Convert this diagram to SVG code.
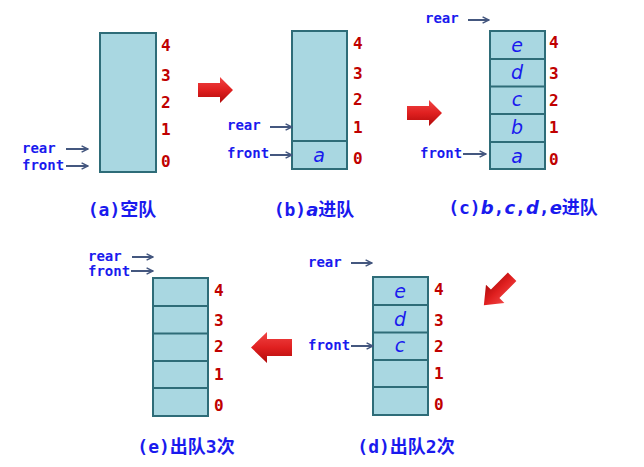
<svg xmlns="http://www.w3.org/2000/svg" width="644" height="467" viewBox="0 0 644 467">
<defs>
<linearGradient id="rg" x1="0" y1="0" x2="0" y2="1">
<stop offset="0" stop-color="#f04545"/>
<stop offset="0.5" stop-color="#e02020"/>
<stop offset="1" stop-color="#b00a0a"/>
</linearGradient>
<marker id="ah" viewBox="0 0 10 10" refX="9" refY="5" markerWidth="8" markerHeight="8" markerUnits="userSpaceOnUse" orient="auto">
<path d="M1,1 L9,5 L1,9" fill="none" stroke="#44577f" stroke-width="1.8"/>
</marker>
</defs>
<style>
.box{fill:#a9d7e1;stroke:#2e6c78;stroke-width:2}
.div{stroke:#2e6c78;stroke-width:2}
.idx{font-family:"DejaVu Sans Mono",monospace;font-weight:bold;font-size:16px;fill:#c00000}
.lbl{font-family:"DejaVu Sans Mono",monospace;font-weight:bold;font-size:14px;fill:#1a1aee}
.cell{font-family:"DejaVu Sans",sans-serif;font-style:italic;font-size:19px;fill:#1a1aee;text-anchor:middle}
.cap{font-family:"DejaVu Sans Mono","Noto Sans CJK SC",monospace;font-weight:bold;font-size:18px;fill:#1a1aee;text-anchor:middle}
.it{font-family:"DejaVu Sans",sans-serif;font-style:italic}
.ptr{stroke:#44577f;stroke-width:2;fill:none;marker-end:url(#ah)}
.big{fill:url(#rg)}
</style>

<g id="nodeA">
<rect class="box" x="100" y="33" width="56" height="139"/>
<text class="idx" x="161" y="51">4</text>
<text class="idx" x="161" y="81">3</text>
<text class="idx" x="161" y="108">2</text>
<text class="idx" x="161" y="135">1</text>
<text class="idx" x="161" y="167">0</text>
<text class="lbl" x="22" y="153">rear</text>
<text class="lbl" x="22" y="170">front</text>
<text class="cap" x="122" y="216">(a)空队</text>
</g>

<g id="nodeB">
<rect class="box" x="292" y="31" width="55" height="138"/>
<line class="div" x1="292" y1="141" x2="347" y2="141"/>
<text class="cell" x="319" y="162">a</text>
<text class="idx" x="353" y="49">4</text>
<text class="idx" x="353" y="79">3</text>
<text class="idx" x="353" y="105">2</text>
<text class="idx" x="353" y="133">1</text>
<text class="idx" x="353" y="164">0</text>
<text class="lbl" x="227" y="130">rear</text>
<text class="lbl" x="227" y="158">front</text>
<text class="cap" x="314" y="216">(b)<tspan class="it">a</tspan>进队</text>
</g>

<g id="nodeC">
<rect class="box" x="490" y="31" width="55" height="138"/>
<line class="div" x1="490" y1="59" x2="545" y2="59"/>
<line class="div" x1="490" y1="86.5" x2="545" y2="86.5"/>
<line class="div" x1="490" y1="114" x2="545" y2="114"/>
<line class="div" x1="490" y1="142" x2="545" y2="142"/>
<text class="cell" x="517" y="52">e</text>
<text class="cell" x="517" y="79">d</text>
<text class="cell" x="517" y="106">c</text>
<text class="cell" x="517" y="134">b</text>
<text class="cell" x="517" y="163">a</text>
<text class="idx" x="549" y="48">4</text>
<text class="idx" x="549" y="79">3</text>
<text class="idx" x="549" y="106">2</text>
<text class="idx" x="549" y="133">1</text>
<text class="idx" x="549" y="165">0</text>
<text class="lbl" x="425" y="23">rear</text>
<text class="lbl" x="420" y="158">front</text>
<text class="cap" x="523" y="214">(c)<tspan class="it">b</tspan>,<tspan class="it">c</tspan>,<tspan class="it">d</tspan>,<tspan class="it">e</tspan>进队</text>
</g>

<g id="nodeD">
<rect class="box" x="373" y="277" width="55" height="138"/>
<line class="div" x1="373" y1="305" x2="428" y2="305"/>
<line class="div" x1="373" y1="332.5" x2="428" y2="332.5"/>
<line class="div" x1="373" y1="360" x2="428" y2="360"/>
<line class="div" x1="373" y1="387" x2="428" y2="387"/>
<text class="cell" x="400" y="298">e</text>
<text class="cell" x="400" y="326">d</text>
<text class="cell" x="400" y="352">c</text>
<text class="idx" x="434" y="295">4</text>
<text class="idx" x="434" y="326">3</text>
<text class="idx" x="434" y="352">2</text>
<text class="idx" x="434" y="379">1</text>
<text class="idx" x="434" y="410">0</text>
<text class="lbl" x="308" y="267">rear</text>
<text class="lbl" x="308" y="350">front</text>
<text class="cap" x="406" y="453">(d)出队2次</text>
</g>

<g id="nodeE">
<rect class="box" x="153" y="278" width="55" height="138"/>
<line class="div" x1="153" y1="306" x2="208" y2="306"/>
<line class="div" x1="153" y1="333.5" x2="208" y2="333.5"/>
<line class="div" x1="153" y1="361" x2="208" y2="361"/>
<line class="div" x1="153" y1="388" x2="208" y2="388"/>
<text class="idx" x="214" y="296">4</text>
<text class="idx" x="214" y="326">3</text>
<text class="idx" x="214" y="352">2</text>
<text class="idx" x="214" y="380">1</text>
<text class="idx" x="214" y="411">0</text>
<text class="lbl" x="88" y="261">rear</text>
<text class="lbl" x="88" y="276">front</text>
<text class="cap" x="186" y="453">(e)出队3次</text>
</g>

<g id="connectors">
<line class="ptr" x1="66" y1="149" x2="88" y2="149"/>
<line class="ptr" x1="66" y1="166" x2="88" y2="166"/>
<line class="ptr" x1="270" y1="127" x2="292" y2="127"/>
<line class="ptr" x1="270" y1="155" x2="292" y2="155"/>
<line class="ptr" x1="468" y1="20" x2="489" y2="20"/>
<line class="ptr" x1="463" y1="154" x2="486" y2="154"/>
<line class="ptr" x1="351" y1="263" x2="372" y2="263"/>
<line class="ptr" x1="351" y1="346" x2="373" y2="346"/>
<line class="ptr" x1="132" y1="257" x2="153" y2="257"/>
<line class="ptr" x1="131" y1="271" x2="153" y2="271"/>
<polygon class="big" points="198,83 220,83 220,77 233,90 220,103 220,97 198,97"/>
<polygon class="big" points="407,106 429,106 429,100 442,113 429,126 429,120 407,120"/>
<polygon class="big" points="292,339 267,339 267,332 251,347.5 267,363 267,356 292,356"/>
<polygon class="big" transform="translate(498,291) rotate(135)" points="-20,-6 4,-6 4,-13 20,0 4,13 4,6 -20,6"/>
</g>
</svg>
